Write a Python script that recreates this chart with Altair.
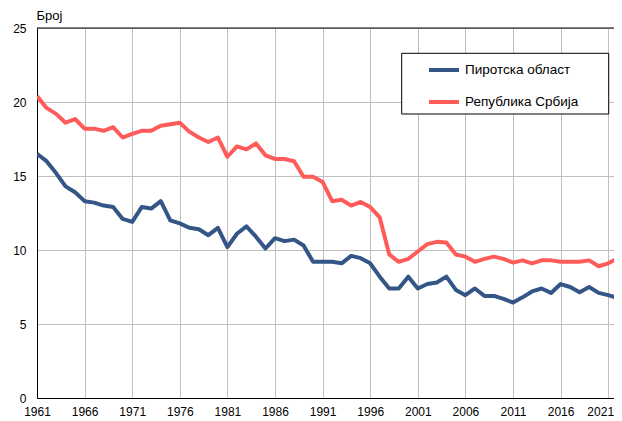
import altair as alt
import pandas as pd

years = list(range(1961, 2024))

pirot = [16.5, 16.0, 15.2, 14.3, 13.9, 13.3, 13.2, 13.0, 12.9, 12.1,
         11.9, 12.9, 12.8, 13.3, 12.0, 11.8, 11.5, 11.4, 11.0, 11.5,
         10.2, 11.1, 11.6, 10.9, 10.1, 10.8, 10.6, 10.7, 10.3, 9.2,
         9.2, 9.2, 9.1, 9.6, 9.45, 9.1, 8.2, 7.4, 7.4, 8.2,
         7.4, 7.7, 7.8, 8.2, 7.3, 6.95, 7.4, 6.9, 6.9, 6.7,
         6.45, 6.8, 7.2, 7.4, 7.1, 7.7, 7.5, 7.15, 7.5, 7.1,
         6.95, 6.75, 8.0]

srbija = [20.4, 19.6, 19.2, 18.6, 18.85, 18.2, 18.2, 18.05, 18.3, 17.6,
          17.85, 18.05, 18.05, 18.4, 18.5, 18.6, 18.0, 17.6, 17.3, 17.6,
          16.3, 17.0, 16.8, 17.2, 16.4, 16.15, 16.15, 16.0, 14.95, 14.95,
          14.6, 13.3, 13.4, 13.0, 13.25, 12.9, 12.2, 9.7, 9.2, 9.4,
          9.9, 10.4, 10.55, 10.5, 9.7, 9.55, 9.2, 9.4, 9.55, 9.4,
          9.15, 9.3, 9.1, 9.3, 9.3, 9.2, 9.2, 9.2, 9.3, 8.9,
          9.1, 9.45, 9.4]

series_names = ["Пиротска област", "Република Србија"]
series_colors = ["#335687", "#ff5b5b"]
x_ticks = list(range(1961, 2022, 5))
y_ticks = [0, 5, 10, 15, 20, 25]

df = pd.DataFrame({
    "year": years * 2,
    "value": pirot + srbija,
    "series": [series_names[0]] * len(years) + [series_names[1]] * len(years),
})

FONT = "Liberation Sans"
PX_PER_YEAR = 9.52
PLOT_W = 577
x_end = 1961 + PLOT_W / PX_PER_YEAR

lines = alt.Chart(df).mark_line(strokeWidth=4, clip=True, strokeJoin="round").encode(
    x=alt.X("year:Q",
            scale=alt.Scale(domain=[1961, x_end], nice=False, zero=False),
            axis=alt.Axis(values=x_ticks, format="d", title=None, ticks=False,
                          labelFlush=False, labelOverlap=False,
                          labelPadding=8, labelFontSize=12, labelColor="#000000",
                          labelOffset=alt.condition("datum.value == 2021", alt.value(-8), alt.value(0)),
                          domainColor="#000000", domainWidth=1,
                          grid=True, gridColor="#bfbfbf", gridWidth=1,
                          labelFont=FONT)),
    y=alt.Y("value:Q",
            scale=alt.Scale(domain=[0, 25], nice=False),
            axis=alt.Axis(values=y_ticks, title="Број", ticks=False,
                          labelPadding=11, labelFontSize=12, labelColor="#000000",
                          domainColor="#000000", domainWidth=1,
                          grid=True, gridColor="#bfbfbf", gridWidth=1,
                          titleAngle=0, titleX=-1, titleY=-9, titleAlign="left",
                          titleBaseline="alphabetic", titleFontSize=13,
                          titleFontWeight="normal", titleColor="#000000",
                          labelFont=FONT, titleFont=FONT)),
    color=alt.Color("series:N",
                    scale=alt.Scale(domain=series_names, range=series_colors),
                    legend=alt.Legend(title=None, orient="none",
                                      legendX=390, legendY=25,
                                      symbolType="stroke", symbolSize=900,
                                      symbolStrokeWidth=4, symbolOffset=0,
                                      labelFontSize=13.5, labelFont=FONT,
                                      labelColor="#000000", labelOffset=4,
                                      rowPadding=7, padding=0)),
)

legend_box = alt.Chart(pd.DataFrame({"k": [0]})).mark_rect(
    fill="#ffffff", stroke="#000000", strokeWidth=1
).encode(
    x=alt.value(364.7), x2=alt.value(571.7), y=alt.value(25.3), y2=alt.value(86)
)

top_border = alt.Chart(pd.DataFrame({"v": [25]})).mark_rule(color="#000000", strokeWidth=1).encode(
    y="v:Q"
)

chart = alt.layer(lines, legend_box, top_border).properties(
    width=PLOT_W, height=370,
    autosize=alt.AutoSizeParams(type="none"),
    padding={"left": 29, "top": 20, "right": 0, "bottom": 20},
).configure_view(stroke=None)

chart.save("out.html", embed_options={"renderer": "svg", "actions": False})
